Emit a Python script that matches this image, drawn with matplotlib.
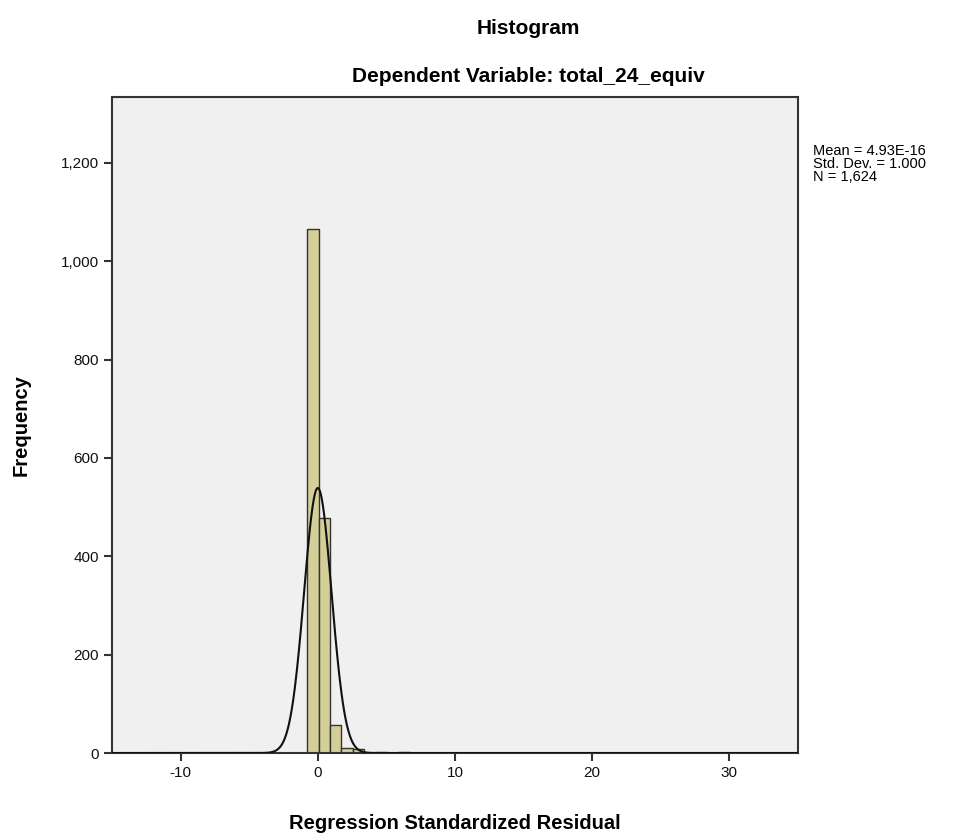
import matplotlib.pyplot as plt
import numpy as np
from matplotlib.ticker import FuncFormatter

plt.rcParams['font.family'] = ['Liberation Sans', 'DejaVu Sans']
plt.rcParams['axes.unicode_minus'] = False

# histogram bins (standardized residual)
bin_start = -0.78
bin_width = 0.832
counts = [1065, 477, 56, 10, 8, 1, 2, 0, 2, 0, 0, 0, 0, 0, 1, 0, 0, 0, 0, 1,
          0, 0, 0, 0, 0, 0, 0, 0, 0, 0, 0, 0, 0, 0, 1]

mean = 4.93e-16
sd = 1.000
n = 1624

xticks = [-10, 0, 10, 20, 30]
yticks = [0, 200, 400, 600, 800, 1000, 1200]

edges = bin_start + bin_width * np.arange(len(counts) + 1)

fig = plt.figure(figsize=(9.64, 8.38), dpi=100)
ax = fig.add_axes([0.1162, 0.1014, 0.7116, 0.7828])
ax.set_facecolor('#f0f0f0')

ax.bar(edges[:-1], counts, width=bin_width, align='edge',
       color='#d4cf98', edgecolor='#333333', linewidth=1.0, zorder=2)

xs = np.linspace(-15, 35, 1000)
ys = n * bin_width / (sd * np.sqrt(2 * np.pi)) * np.exp(-0.5 * ((xs - mean) / sd) ** 2)
ax.plot(xs, ys, color='#111111', linewidth=1.5, zorder=3)

ax.set_xlim(-15, 35)
ax.set_ylim(0, 1334)
ax.set_xticks(xticks)
ax.set_yticks(yticks)
ax.yaxis.set_major_formatter(FuncFormatter(lambda v, p: f'{int(v):,}'))
ax.tick_params(direction='out', length=6, width=1.5, color='#333333',
               labelsize=11, labelcolor='#111111')

for s in ax.spines.values():
    s.set_color('#333333')
    s.set_linewidth(1.5)

ax.set_xlabel('Regression Standardized Residual', fontsize=14.5, fontweight='bold', labelpad=24)
ax.set_ylabel('Frequency', fontsize=14.5, fontweight='bold', labelpad=22)

fig.text(0.5477, 0.966, 'Histogram', ha='center', va='center', fontsize=15, fontweight='bold')
fig.text(0.5477, 0.909, 'Dependent Variable: total_24_equiv', ha='center', va='center',
         fontsize=15, fontweight='bold')

fig.text(0.843, 0.828, f'Mean = 4.93E-16\nStd. Dev. = {sd:.3f}\nN = {n:,}',
         ha='left', va='top', fontsize=10.5, linespacing=0.9)

fig.savefig('out.png', dpi=100)
